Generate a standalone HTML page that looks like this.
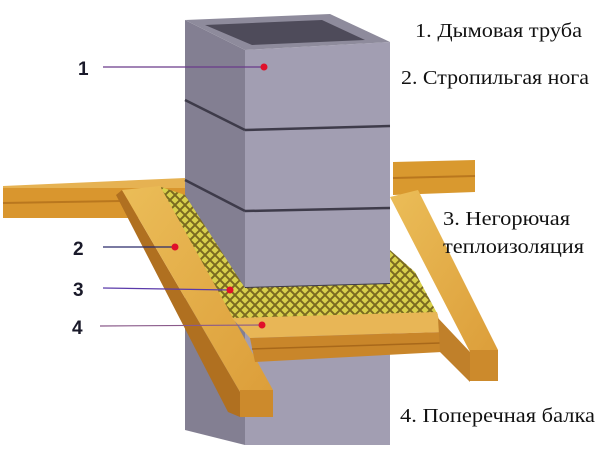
<!DOCTYPE html>
<html><head><meta charset="utf-8"><style>
html,body{margin:0;padding:0;background:#fff;}
svg{display:block}
.t{font-family:"Liberation Serif","DejaVu Serif","Noto Serif CJK SC",serif;font-size:20px;fill:#111}
</style></head><body>
<svg width="600" height="450" viewBox="0 0 600 450" xmlns="http://www.w3.org/2000/svg">
<defs>
<pattern id="ins" width="10" height="10" patternUnits="userSpaceOnUse">
<rect width="10" height="10" fill="#d8d04a"/>
<path d="M0 0L10 10M10 0L0 10" stroke="#7a6a20" stroke-width="2"/>
</pattern>
<linearGradient id="wood" x1="0" y1="0" x2="1" y2="1">
<stop offset="0" stop-color="#ebbd58"/><stop offset="1" stop-color="#dc9e3a"/>
</linearGradient>
</defs>
<rect width="600" height="450" fill="#fff"/>
<polygon points="3,186 185,178 185,188 3,190" fill="#e6b252"/>
<rect x="3" y="188" width="182" height="30" fill="#d9962e"/>
<line x1="3" y1="203" x2="180" y2="200" stroke="#b9771e" stroke-width="2"/>
<polygon points="393,162 475,160 475,192 393,195" fill="#d9992f"/>
<line x1="393" y1="178" x2="475" y2="176" stroke="#b9771e" stroke-width="2"/>
<polygon points="185,20 245,50 245,445 185,430" fill="#837f92"/>
<polygon points="245,50 390,42 390,445 245,445" fill="#a29eb2"/>
<polygon points="185,20 330,14 390,42 245,50" fill="#8e8b9c"/>
<polygon points="205,25 322,20 365,40 252,45" fill="#4e4b5a"/>
<line x1="185" y1="100" x2="245" y2="130" stroke="#3e3b4a" stroke-width="2.5"/>
<line x1="245" y1="130" x2="390" y2="126" stroke="#3e3b4a" stroke-width="2.5"/>
<line x1="185" y1="180" x2="245" y2="211" stroke="#3e3b4a" stroke-width="2.5"/>
<line x1="245" y1="211" x2="390" y2="208" stroke="#3e3b4a" stroke-width="2.5"/>
<line x1="245" y1="288" x2="390" y2="284" stroke="#3e3b4a" stroke-width="2"/>
<polygon points="158,186 185,195 245,288 390,284 390,250 415,272 438,315 226,320" fill="url(#ins)"/>
<polygon points="116,195 122,190 240,392 240,417 228,412" fill="#b07020"/>
<polygon points="122,190 160,186 273,390 240,392" fill="url(#wood)"/>
<rect x="240" y="390" width="33" height="27" fill="#cc8a2c"/>
<polygon points="232,318 437,312 442,332 250,338" fill="#e8b656"/>
<polygon points="250,338 442,332 442,352 255,362" fill="#c9862a"/>
<line x1="252" y1="349" x2="440" y2="343" stroke="#a8681a" stroke-width="1.5"/>
<polygon points="438,318 470,352 470,382 440,352" fill="#c0802a"/>
<polygon points="390,197 418,190 498,350 470,352" fill="url(#wood)"/>
<rect x="470" y="350" width="28" height="31" fill="#cc8a2c"/>
<line x1="103" y1="67" x2="265" y2="67" stroke="#6a3a8a" stroke-width="1.2"/>
<line x1="103" y1="247" x2="175" y2="247" stroke="#2a2a6a" stroke-width="1.2"/>
<line x1="103" y1="288" x2="230" y2="290" stroke="#5a3aaa" stroke-width="1.2"/>
<line x1="100" y1="326" x2="262" y2="325" stroke="#8a5a8a" stroke-width="1.2"/>
<circle cx="264" cy="67" r="3.5" fill="#e0102a"/>
<circle cx="175" cy="247" r="3.5" fill="#e0102a"/>
<circle cx="230" cy="290" r="3.5" fill="#e0102a"/>
<circle cx="262" cy="325" r="3.5" fill="#e0102a"/>
<g style="font-family:'Liberation Sans',Arial,sans-serif;font-weight:bold;font-size:19px" fill="#1a1a2a">
<text x="78" y="75">1</text>
<text x="73" y="255">2</text>
<text x="73" y="296">3</text>
<text x="72" y="334">4</text>
</g>
<text class="t" x="415" y="37" textLength="167" lengthAdjust="spacingAndGlyphs">1. Дымовая труба</text>
<text class="t" x="401" y="84" textLength="188" lengthAdjust="spacingAndGlyphs">2. Стропильгая нога</text>
<text class="t" x="443" y="225" textLength="127" lengthAdjust="spacingAndGlyphs">3. Негорючая</text>
<text class="t" x="443" y="253" textLength="141" lengthAdjust="spacingAndGlyphs">теплоизоляция</text>
<text class="t" x="400" y="422" textLength="195" lengthAdjust="spacingAndGlyphs">4. Поперечная балка</text>
</svg>
</body></html>
